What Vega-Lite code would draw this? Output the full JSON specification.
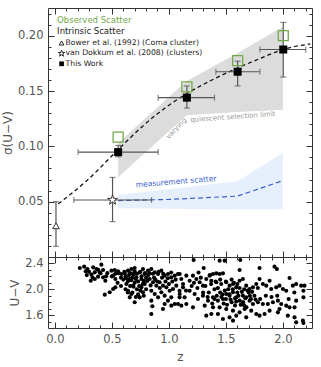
{
  "$schema": "https://vega.github.io/schema/vega-lite/v6.json",
  "background": "white",
  "padding": {"left": 0, "top": 7, "right": 8, "bottom": 0},
  "spacing": 0,
  "bounds": "flush",
  "config": {
    "view": {"stroke": "#333", "strokeWidth": 1},
    "axis": {"domain": false, "grid": false, "labelFont": "DejaVu Sans", "labelFontSize": 11.5, "labelColor": "#555", "tickColor": "#333", "tickWidth": 1, "titleFont": "DejaVu Sans", "titleFontWeight": "normal", "titleColor": "#555", "titleFontSize": 12, "labelOverlap": false},
    "text": {"font": "DejaVu Sans"}
  },
  "datasets": {
    "gray": [{"z": 0.555, "lo": 0.072, "hi": 0.103}, {"z": 1.155, "lo": 0.128, "hi": 0.159}, {"z": 1.6, "lo": 0.131, "hi": 0.184}, {"z": 2.0, "lo": 0.133, "hi": 0.208}],
    "blue": [{"z": 0.555, "lo": 0.044, "hi": 0.056}, {"z": 1.6, "lo": 0.043, "hi": 0.0685}, {"z": 2.0, "lo": 0.043, "hi": 0.094}],
    "bluedash": [{"z": 0.555, "s": 0.051}, {"z": 1.0, "s": 0.052}, {"z": 1.6, "s": 0.055}, {"z": 2.0, "s": 0.069}],
    "curve": [{"z": 0.03, "s": 0.048}, {"z": 0.28, "s": 0.069}, {"z": 0.555, "s": 0.097}, {"z": 0.775, "s": 0.1187}, {"z": 0.994, "s": 0.1367}, {"z": 1.155, "s": 0.1475}, {"z": 1.36, "s": 0.159}, {"z": 1.608, "s": 0.171}, {"z": 1.8, "s": 0.1794}, {"z": 2.0, "s": 0.1875}, {"z": 2.24, "s": 0.1925}],
    "obs": [{"z": 0.555, "s": 0.1083}, {"z": 1.158, "s": 0.1537}, {"z": 1.603, "s": 0.1774}, {"z": 2.003, "s": 0.2}],
    "err": [
      {"src": "this", "z": 0.555, "s": 0.0948, "zlo": 0.204, "zhi": 0.906, "slo": 0.0905, "shi": 0.1008},
      {"src": "this", "z": 1.158, "s": 0.144, "zlo": 0.906, "zhi": 1.4, "slo": 0.1346, "shi": 0.1546},
      {"src": "this", "z": 1.603, "s": 0.1674, "zlo": 1.412, "zhi": 1.798, "slo": 0.1546, "shi": 0.177},
      {"src": "this", "z": 2.003, "s": 0.1875, "zlo": 1.798, "zhi": 2.2, "slo": 0.1626, "shi": 0.212},
      {"src": "vd", "z": 0.506, "s": 0.0515, "zlo": 0.167, "zhi": 0.848, "slo": 0.032, "shi": 0.0719},
      {"src": "bower", "z": 0.01, "s": 0.0282, "zlo": null, "zhi": null, "slo": 0.0097, "shi": 0.05}
    ],
    "uv": [
      {"z": 0.219, "uv": 2.33}, {"z": 0.257, "uv": 2.35}, {"z": 0.286, "uv": 2.314}, {"z": 0.336, "uv": 2.34}, {"z": 0.365, "uv": 2.314}, {"z": 0.408, "uv": 2.381}, {"z": 0.423, "uv": 2.299}, {"z": 0.394, "uv": 2.262}, {"z": 0.35, "uv": 2.262}, {"z": 0.321, "uv": 2.226},
      {"z": 0.315, "uv": 2.133}, {"z": 0.35, "uv": 2.159}, {"z": 0.379, "uv": 2.195}, {"z": 0.423, "uv": 2.185}, {"z": 0.443, "uv": 2.133}, {"z": 0.496, "uv": 2.288}, {"z": 0.525, "uv": 2.299}, {"z": 0.554, "uv": 2.278}, {"z": 0.511, "uv": 2.211}, {"z": 0.531, "uv": 2.159},
      {"z": 0.438, "uv": 1.917}, {"z": 0.481, "uv": 1.953}, {"z": 0.511, "uv": 2.004}, {"z": 0.531, "uv": 2.03}, {"z": 0.584, "uv": 2.237}, {"z": 0.613, "uv": 2.247}, {"z": 0.642, "uv": 2.288}, {"z": 0.671, "uv": 2.314}, {"z": 0.7, "uv": 2.33}, {"z": 0.686, "uv": 2.237},
      {"z": 0.715, "uv": 2.185}, {"z": 0.657, "uv": 2.159}, {"z": 0.627, "uv": 2.082}, {"z": 0.686, "uv": 2.056}, {"z": 0.744, "uv": 2.262}, {"z": 0.759, "uv": 2.159}, {"z": 0.773, "uv": 2.314}, {"z": 0.788, "uv": 2.237}, {"z": 0.642, "uv": 1.978}, {"z": 0.671, "uv": 1.927},
      {"z": 0.657, "uv": 1.875}, {"z": 0.7, "uv": 1.798}, {"z": 0.744, "uv": 1.875}, {"z": 0.773, "uv": 1.953}, {"z": 0.759, "uv": 2.03}, {"z": 0.788, "uv": 2.082}, {"z": 0.817, "uv": 2.288}, {"z": 0.846, "uv": 2.314}, {"z": 0.876, "uv": 2.262}, {"z": 0.905, "uv": 2.237},
      {"z": 0.934, "uv": 2.288}, {"z": 0.963, "uv": 2.211}, {"z": 0.992, "uv": 2.237}, {"z": 1.021, "uv": 2.185}, {"z": 1.051, "uv": 2.211}, {"z": 1.08, "uv": 2.237}, {"z": 1.109, "uv": 2.159}, {"z": 0.832, "uv": 2.159}, {"z": 0.861, "uv": 2.108}, {"z": 0.89, "uv": 2.056},
      {"z": 0.919, "uv": 2.108}, {"z": 0.948, "uv": 2.056}, {"z": 0.978, "uv": 2.03}, {"z": 1.007, "uv": 1.978}, {"z": 1.036, "uv": 2.004}, {"z": 1.065, "uv": 2.056}, {"z": 1.094, "uv": 1.978}, {"z": 1.124, "uv": 2.03}, {"z": 0.846, "uv": 1.978}, {"z": 0.876, "uv": 1.927},
      {"z": 0.905, "uv": 1.875}, {"z": 0.934, "uv": 1.953}, {"z": 0.963, "uv": 1.901}, {"z": 0.992, "uv": 1.824}, {"z": 1.021, "uv": 1.875}, {"z": 1.051, "uv": 1.772}, {"z": 1.094, "uv": 1.875}, {"z": 1.109, "uv": 1.746}, {"z": 0.846, "uv": 1.617}, {"z": 0.855, "uv": 1.736},
      {"z": 0.948, "uv": 1.694}, {"z": 0.963, "uv": 1.772}, {"z": 1.021, "uv": 1.746}, {"z": 1.08, "uv": 1.772}, {"z": 0.846, "uv": 1.824},
      {"z": 0.6, "uv": 2.15}, {"z": 0.62, "uv": 2.2}, {"z": 0.64, "uv": 2.12}, {"z": 0.66, "uv": 2.25}, {"z": 0.68, "uv": 2.18}, {"z": 0.7, "uv": 2.1}, {"z": 0.72, "uv": 2.24}, {"z": 0.74, "uv": 2.05}, {"z": 0.76, "uv": 2.2}, {"z": 0.78, "uv": 2.13},
      {"z": 0.8, "uv": 2.18}, {"z": 0.7, "uv": 2.28}, {"z": 0.66, "uv": 2.05}, {"z": 0.62, "uv": 2.0}, {"z": 0.72, "uv": 2.0}, {"z": 0.8, "uv": 2.0}, {"z": 0.83, "uv": 2.25}, {"z": 0.87, "uv": 2.18}, {"z": 0.9, "uv": 2.12}, {"z": 0.94, "uv": 2.18},
      {"z": 0.97, "uv": 2.12}, {"z": 1.0, "uv": 2.08}, {"z": 1.03, "uv": 2.12}, {"z": 1.06, "uv": 2.15}, {"z": 0.68, "uv": 1.95}, {"z": 0.73, "uv": 1.92}, {"z": 0.58, "uv": 2.05}, {"z": 0.55, "uv": 2.1}, {"z": 0.5, "uv": 2.2}, {"z": 0.46, "uv": 2.25},
      {"z": 0.28, "uv": 2.22}, {"z": 0.3, "uv": 2.27}, {"z": 0.33, "uv": 2.18}, {"z": 0.38, "uv": 2.3}, {"z": 0.4, "uv": 2.25},
      {"z": 0.61, "uv": 2.27}, {"z": 0.63, "uv": 2.17}, {"z": 0.65, "uv": 2.22}, {"z": 0.67, "uv": 2.14}, {"z": 0.69, "uv": 2.23}, {"z": 0.71, "uv": 2.16}, {"z": 0.73, "uv": 2.12}, {"z": 0.75, "uv": 2.27}, {"z": 0.77, "uv": 2.08}, {"z": 0.79, "uv": 2.25},
      {"z": 0.81, "uv": 2.13}, {"z": 0.82, "uv": 2.22}, {"z": 0.84, "uv": 2.06}, {"z": 0.86, "uv": 2.24}, {"z": 0.88, "uv": 2.15}, {"z": 0.91, "uv": 2.27}, {"z": 0.92, "uv": 2.02}, {"z": 0.95, "uv": 2.24}, {"z": 0.99, "uv": 2.17}, {"z": 1.02, "uv": 2.26},
      {"z": 0.69, "uv": 2.04}, {"z": 0.75, "uv": 1.98}, {"z": 0.64, "uv": 1.95}, {"z": 0.71, "uv": 1.88}, {"z": 0.78, "uv": 1.9}, {"z": 0.58, "uv": 2.18}, {"z": 0.56, "uv": 2.25}, {"z": 0.53, "uv": 2.24}, {"z": 0.45, "uv": 2.2}, {"z": 0.27, "uv": 2.28},
      {"z": 1.217, "uv": 2.454}, {"z": 1.445, "uv": 2.443}, {"z": 1.489, "uv": 2.443}, {"z": 1.626, "uv": 2.454}, {"z": 1.305, "uv": 2.33}, {"z": 1.62, "uv": 2.299}, {"z": 1.795, "uv": 2.33}, {"z": 1.926, "uv": 2.35}, {"z": 1.947, "uv": 2.314}, {"z": 2.058, "uv": 2.175},
      {"z": 1.095, "uv": 2.237}, {"z": 1.153, "uv": 2.211}, {"z": 1.211, "uv": 2.211}, {"z": 1.182, "uv": 2.133}, {"z": 1.124, "uv": 2.082}, {"z": 1.241, "uv": 2.159}, {"z": 1.27, "uv": 2.108}, {"z": 1.299, "uv": 2.056}, {"z": 1.328, "uv": 2.159}, {"z": 1.357, "uv": 2.211},
      {"z": 1.387, "uv": 2.237}, {"z": 1.416, "uv": 2.247}, {"z": 1.445, "uv": 2.237}, {"z": 1.474, "uv": 2.247}, {"z": 1.372, "uv": 2.133}, {"z": 1.416, "uv": 2.108}, {"z": 1.459, "uv": 2.082}, {"z": 1.503, "uv": 2.108}, {"z": 1.532, "uv": 2.056}, {"z": 1.562, "uv": 2.082},
      {"z": 1.591, "uv": 2.03}, {"z": 1.62, "uv": 2.133}, {"z": 1.649, "uv": 2.159}, {"z": 1.678, "uv": 2.056}, {"z": 1.708, "uv": 2.004}, {"z": 1.737, "uv": 2.03}, {"z": 1.766, "uv": 2.082}, {"z": 1.795, "uv": 2.159}, {"z": 1.824, "uv": 2.082}, {"z": 1.854, "uv": 2.056},
      {"z": 1.883, "uv": 2.133}, {"z": 1.897, "uv": 2.004}, {"z": 1.941, "uv": 2.03}, {"z": 1.97, "uv": 2.056}, {"z": 2.0, "uv": 2.004}, {"z": 2.029, "uv": 1.978}, {"z": 2.087, "uv": 2.056}, {"z": 2.116, "uv": 2.082}, {"z": 2.16, "uv": 2.056}, {"z": 2.189, "uv": 2.056},
      {"z": 2.18, "uv": 1.978}, {"z": 2.18, "uv": 1.875}, {"z": 1.095, "uv": 1.927}, {"z": 1.138, "uv": 1.875}, {"z": 1.182, "uv": 1.978}, {"z": 1.226, "uv": 1.927}, {"z": 1.255, "uv": 1.849}, {"z": 1.299, "uv": 1.901}, {"z": 1.343, "uv": 1.824}, {"z": 1.387, "uv": 1.875},
      {"z": 1.43, "uv": 1.824}, {"z": 1.474, "uv": 1.849}, {"z": 1.503, "uv": 1.927}, {"z": 1.532, "uv": 1.901}, {"z": 1.562, "uv": 1.953}, {"z": 1.591, "uv": 1.875}, {"z": 1.62, "uv": 1.824}, {"z": 1.649, "uv": 1.901}, {"z": 1.678, "uv": 1.875}, {"z": 1.708, "uv": 1.824},
      {"z": 1.737, "uv": 1.772}, {"z": 1.781, "uv": 1.798}, {"z": 1.824, "uv": 1.772}, {"z": 1.868, "uv": 1.772}, {"z": 1.912, "uv": 1.798}, {"z": 1.956, "uv": 1.824}, {"z": 1.985, "uv": 1.772}, {"z": 2.029, "uv": 1.746}, {"z": 2.058, "uv": 1.72}, {"z": 2.116, "uv": 1.824},
      {"z": 2.102, "uv": 1.72}, {"z": 1.153, "uv": 1.772}, {"z": 1.211, "uv": 1.72}, {"z": 1.314, "uv": 1.746}, {"z": 1.387, "uv": 1.72}, {"z": 1.445, "uv": 1.72}, {"z": 1.503, "uv": 1.694}, {"z": 1.562, "uv": 1.669}, {"z": 1.62, "uv": 1.643}, {"z": 1.664, "uv": 1.694},
      {"z": 1.722, "uv": 1.669}, {"z": 1.795, "uv": 1.591}, {"z": 1.839, "uv": 1.617}, {"z": 1.883, "uv": 1.669}, {"z": 1.956, "uv": 1.643}, {"z": 2.043, "uv": 1.591}, {"z": 2.102, "uv": 1.565}, {"z": 2.116, "uv": 1.488}, {"z": 2.175, "uv": 1.514}, {"z": 2.18, "uv": 1.478},
      {"z": 1.328, "uv": 1.591}, {"z": 1.372, "uv": 1.617}, {"z": 1.43, "uv": 1.617}, {"z": 1.474, "uv": 1.54}, {"z": 1.532, "uv": 1.565}, {"z": 1.562, "uv": 1.514}, {"z": 1.591, "uv": 1.591}, {"z": 1.678, "uv": 1.565}, {"z": 1.766, "uv": 1.617}, {"z": 1.97, "uv": 1.694},
      {"z": 1.35, "uv": 1.95}, {"z": 1.4, "uv": 2.0}, {"z": 1.45, "uv": 1.95}, {"z": 1.5, "uv": 1.85}, {"z": 1.55, "uv": 1.8}, {"z": 1.6, "uv": 1.95}, {"z": 1.65, "uv": 1.8}, {"z": 1.7, "uv": 1.95}, {"z": 1.45, "uv": 2.15}, {"z": 1.55, "uv": 2.15},
      {"z": 1.38, "uv": 1.78}, {"z": 1.48, "uv": 1.78}, {"z": 1.58, "uv": 1.75}, {"z": 1.68, "uv": 1.72}, {"z": 1.62, "uv": 2.02}, {"z": 1.52, "uv": 2.0}, {"z": 1.42, "uv": 1.9}, {"z": 1.25, "uv": 2.02}, {"z": 1.2, "uv": 2.05}, {"z": 1.15, "uv": 1.98},
      {"z": 1.3, "uv": 1.95}, {"z": 1.75, "uv": 1.9}, {"z": 1.8, "uv": 1.85}, {"z": 1.85, "uv": 1.9}, {"z": 1.9, "uv": 1.88}, {"z": 1.95, "uv": 1.9}, {"z": 2.05, "uv": 1.85}, {"z": 2.1, "uv": 1.95}, {"z": 1.6, "uv": 2.08}, {"z": 1.66, "uv": 2.0},
      {"z": 1.72, "uv": 1.85}, {"z": 1.28, "uv": 2.18},
      {"z": 1.32, "uv": 2.05}, {"z": 1.34, "uv": 1.88}, {"z": 1.37, "uv": 2.08}, {"z": 1.4, "uv": 1.85}, {"z": 1.43, "uv": 2.02}, {"z": 1.46, "uv": 1.88}, {"z": 1.49, "uv": 1.98}, {"z": 1.51, "uv": 1.76}, {"z": 1.53, "uv": 1.92}, {"z": 1.56, "uv": 2.0},
      {"z": 1.58, "uv": 1.86}, {"z": 1.61, "uv": 1.9}, {"z": 1.63, "uv": 1.76}, {"z": 1.64, "uv": 1.96}, {"z": 1.67, "uv": 1.86}, {"z": 1.69, "uv": 1.98}, {"z": 1.71, "uv": 1.9}, {"z": 1.73, "uv": 1.96}, {"z": 1.76, "uv": 1.84}, {"z": 1.78, "uv": 2.02},
      {"z": 1.47, "uv": 1.92}, {"z": 1.54, "uv": 1.84}, {"z": 1.59, "uv": 1.81}, {"z": 1.66, "uv": 1.75}, {"z": 1.57, "uv": 2.1}, {"z": 1.5, "uv": 2.12}, {"z": 1.41, "uv": 2.12}, {"z": 1.36, "uv": 2.22}, {"z": 1.26, "uv": 2.26}, {"z": 1.22, "uv": 2.1}
    ]
  },
  "vconcat": [
    {
      "width": 264,
      "height": 249,
      "resolve": {"axis": {"x": "independent", "y": "independent"}},
      "layer": [
        {
          "data": {"name": "gray"},
          "mark": {"type": "area", "color": "#dcdcdc", "opacity": 1},
          "encoding": {
            "x": {"field": "z", "type": "quantitative", "scale": {"domain": [-0.06, 2.255], "nice": false, "zero": false},
              "axis": {"orient": "bottom", "values": [0, 0.1, 0.2, 0.3, 0.4, 0.5, 0.6, 0.7, 0.8, 0.9, 1, 1.1, 1.2, 1.3, 1.4, 1.5, 1.6, 1.7, 1.8, 1.9, 2, 2.1, 2.2], "labels": false, "title": null,
                "tickSize": {"condition": {"test": "abs(datum.value*2-round(datum.value*2))<0.001", "value": -6}, "value": -3}}},
            "y": {"field": "lo", "type": "quantitative", "scale": {"domain": [0, 0.225], "nice": false, "zero": false},
              "axis": {"orient": "left", "values": [0.01, 0.02, 0.03, 0.04, 0.05, 0.06, 0.07, 0.08, 0.09, 0.1, 0.11, 0.12, 0.13, 0.14, 0.15, 0.16, 0.17, 0.18, 0.19, 0.2, 0.21, 0.22], "format": ".2f",
                "labelExpr": "abs(datum.value*20-round(datum.value*20))<0.001 ? datum.label : ''", "title": "σ(U−V)", "labelPadding": 11, "titlePadding": 3,
                "tickSize": {"condition": {"test": "abs(datum.value*20-round(datum.value*20))<0.001", "value": -6}, "value": -3}}},
            "y2": {"field": "hi"}
          }
        },
        {
          "data": {"name": "blue"},
          "mark": {"type": "area", "color": "#e6f0fc", "opacity": 1},
          "encoding": {
            "x": {"field": "z", "type": "quantitative",
              "axis": {"orient": "top", "values": [0, 0.1, 0.2, 0.3, 0.4, 0.5, 0.6, 0.7, 0.8, 0.9, 1, 1.1, 1.2, 1.3, 1.4, 1.5, 1.6, 1.7, 1.8, 1.9, 2, 2.1, 2.2], "labels": false, "title": null,
                "tickSize": {"condition": {"test": "abs(datum.value*2-round(datum.value*2))<0.001", "value": -6}, "value": -3}}},
            "y": {"field": "lo", "type": "quantitative",
              "axis": {"orient": "right", "values": [0.01, 0.02, 0.03, 0.04, 0.05, 0.06, 0.07, 0.08, 0.09, 0.1, 0.11, 0.12, 0.13, 0.14, 0.15, 0.16, 0.17, 0.18, 0.19, 0.2, 0.21, 0.22], "labels": false, "title": null,
                "tickSize": {"condition": {"test": "abs(datum.value*20-round(datum.value*20))<0.001", "value": -6}, "value": -3}}},
            "y2": {"field": "hi"}
          }
        },
        {
          "data": {"name": "bluedash"},
          "mark": {"type": "line", "color": "#3a62c8", "strokeWidth": 1.2, "strokeDash": [5, 3]},
          "encoding": {"x": {"field": "z", "type": "quantitative", "axis": null}, "y": {"field": "s", "type": "quantitative", "axis": null}}
        },
        {
          "data": {"name": "curve"},
          "mark": {"type": "line", "color": "#111", "strokeWidth": 1.3, "strokeDash": [4, 3], "interpolate": "monotone"},
          "encoding": {"x": {"field": "z", "type": "quantitative", "axis": null}, "y": {"field": "s", "type": "quantitative", "axis": null}}
        },
        {
          "data": {"name": "err"},
          "mark": {"type": "rule", "color": "#555", "strokeWidth": 1.2},
          "encoding": {"x": {"field": "zlo", "type": "quantitative", "axis": null}, "x2": {"field": "zhi"}, "y": {"field": "s", "type": "quantitative", "axis": null}}
        },
        {
          "data": {"name": "err"},
          "mark": {"type": "rule", "color": "#555", "strokeWidth": 1.2},
          "encoding": {"x": {"field": "z", "type": "quantitative", "axis": null}, "y": {"field": "slo", "type": "quantitative", "axis": null}, "y2": {"field": "shi"}}
        },
        {
          "data": {"name": "err"},
          "mark": {"type": "tick", "orient": "horizontal", "color": "#555", "size": 6, "thickness": 1.2},
          "encoding": {"x": {"field": "z", "type": "quantitative", "axis": null}, "y": {"field": "slo", "type": "quantitative", "axis": null}}
        },
        {
          "data": {"name": "err"},
          "mark": {"type": "tick", "orient": "horizontal", "color": "#555", "size": 6, "thickness": 1.2},
          "encoding": {"x": {"field": "z", "type": "quantitative", "axis": null}, "y": {"field": "shi", "type": "quantitative", "axis": null}}
        },
        {
          "data": {"name": "err"},
          "mark": {"type": "tick", "orient": "vertical", "color": "#555", "size": 6, "thickness": 1.2},
          "encoding": {"x": {"field": "zlo", "type": "quantitative", "axis": null}, "y": {"field": "s", "type": "quantitative", "axis": null}}
        },
        {
          "data": {"name": "err"},
          "mark": {"type": "tick", "orient": "vertical", "color": "#555", "size": 6, "thickness": 1.2},
          "encoding": {"x": {"field": "zhi", "type": "quantitative", "axis": null}, "y": {"field": "s", "type": "quantitative", "axis": null}}
        },
        {
          "data": {"name": "obs"},
          "mark": {"type": "point", "shape": "square", "filled": false, "size": 100, "color": "#74a94a", "strokeWidth": 1.3, "opacity": 1},
          "encoding": {"x": {"field": "z", "type": "quantitative", "axis": null}, "y": {"field": "s", "type": "quantitative", "axis": null}}
        },
        {
          "data": {"name": "err"},
          "transform": [{"filter": "datum.src === 'this'"}],
          "mark": {"type": "point", "shape": "square", "filled": true, "size": 64, "color": "#000", "opacity": 1},
          "encoding": {"x": {"field": "z", "type": "quantitative", "axis": null}, "y": {"field": "s", "type": "quantitative", "axis": null}}
        },
        {
          "data": {"name": "err"},
          "transform": [{"filter": "datum.src === 'vd'"}],
          "mark": {"type": "point", "shape": "M0,-1L0.2245,-0.309L0.951,-0.309L0.363,0.118L0.588,0.809L0,0.382L-0.588,0.809L-0.363,0.118L-0.951,-0.309L-0.2245,-0.309Z", "filled": true, "fill": "white", "stroke": "#333", "strokeWidth": 1, "size": 110, "opacity": 1},
          "encoding": {"x": {"field": "z", "type": "quantitative", "axis": null}, "y": {"field": "s", "type": "quantitative", "axis": null}}
        },
        {
          "data": {"name": "err"},
          "transform": [{"filter": "datum.src === 'bower'"}],
          "mark": {"type": "point", "shape": "triangle-up", "filled": true, "fill": "white", "stroke": "#333", "strokeWidth": 1, "size": 45, "opacity": 1},
          "encoding": {"x": {"field": "z", "type": "quantitative", "axis": null}, "y": {"field": "s", "type": "quantitative", "axis": null}}
        },
        {
          "data": {"values": [{}]},
          "mark": {"type": "text", "text": "varying", "fontSize": 7, "color": "#999", "angle": -46, "align": "center", "baseline": "middle"},
          "encoding": {"x": {"datum": 1.066, "type": "quantitative", "axis": null}, "y": {"datum": 0.116, "type": "quantitative", "axis": null}}
        },
        {
          "data": {"values": [{}]},
          "mark": {"type": "text", "text": "quiescent selection limit", "fontSize": 7, "color": "#999", "angle": -4, "align": "center", "baseline": "middle"},
          "encoding": {"x": {"datum": 1.561, "type": "quantitative", "axis": null}, "y": {"datum": 0.1265, "type": "quantitative", "axis": null}}
        },
        {
          "data": {"values": [{}]},
          "mark": {"type": "text", "text": "measurement scatter", "fontSize": 7.5, "color": "#3a5fcd", "angle": -4.5, "align": "center", "baseline": "middle"},
          "encoding": {"x": {"datum": 1.064, "type": "quantitative", "axis": null}, "y": {"datum": 0.0677, "type": "quantitative", "axis": null}}
        },
        {
          "data": {"values": [{}]},
          "mark": {"type": "text", "text": "Observed Scatter", "fontSize": 8.5, "color": "#74a94a", "align": "left", "baseline": "middle"},
          "encoding": {"x": {"datum": 0.02, "type": "quantitative", "axis": null}, "y": {"datum": 0.2143, "type": "quantitative", "axis": null}}
        },
        {
          "data": {"values": [{}]},
          "mark": {"type": "text", "text": "Intrinsic Scatter", "fontSize": 8.5, "color": "#222", "align": "left", "baseline": "middle"},
          "encoding": {"x": {"datum": 0.02, "type": "quantitative", "axis": null}, "y": {"datum": 0.2045, "type": "quantitative", "axis": null}}
        },
        {
          "data": {"values": [{}]},
          "mark": {"type": "text", "text": "Bower et al. (1992) (Coma cluster)", "fontSize": 7.7, "color": "#222", "align": "left", "baseline": "middle"},
          "encoding": {"x": {"datum": 0.094, "type": "quantitative", "axis": null}, "y": {"datum": 0.1934, "type": "quantitative", "axis": null}}
        },
        {
          "data": {"values": [{}]},
          "mark": {"type": "text", "text": "van Dokkum et al. (2008) (clusters)", "fontSize": 7.7, "color": "#222", "align": "left", "baseline": "middle"},
          "encoding": {"x": {"datum": 0.094, "type": "quantitative", "axis": null}, "y": {"datum": 0.1839, "type": "quantitative", "axis": null}}
        },
        {
          "data": {"values": [{}]},
          "mark": {"type": "text", "text": "This Work", "fontSize": 7.7, "color": "#222", "align": "left", "baseline": "middle"},
          "encoding": {"x": {"datum": 0.094, "type": "quantitative", "axis": null}, "y": {"datum": 0.1746, "type": "quantitative", "axis": null}}
        },
        {
          "data": {"values": [{}]},
          "mark": {"type": "point", "shape": "triangle-up", "filled": true, "fill": "white", "stroke": "#222", "strokeWidth": 1, "size": 22, "opacity": 1},
          "encoding": {"x": {"datum": 0.059, "type": "quantitative", "axis": null}, "y": {"datum": 0.1934, "type": "quantitative", "axis": null}}
        },
        {
          "data": {"values": [{}]},
          "mark": {"type": "point", "shape": "M0,-1L0.2245,-0.309L0.951,-0.309L0.363,0.118L0.588,0.809L0,0.382L-0.588,0.809L-0.363,0.118L-0.951,-0.309L-0.2245,-0.309Z", "filled": true, "fill": "white", "stroke": "#222", "strokeWidth": 1, "size": 45, "opacity": 1},
          "encoding": {"x": {"datum": 0.059, "type": "quantitative", "axis": null}, "y": {"datum": 0.1839, "type": "quantitative", "axis": null}}
        },
        {
          "data": {"values": [{}]},
          "mark": {"type": "point", "shape": "square", "filled": true, "color": "#000", "size": 22, "opacity": 1},
          "encoding": {"x": {"datum": 0.059, "type": "quantitative", "axis": null}, "y": {"datum": 0.1746, "type": "quantitative", "axis": null}}
        }
      ]
    },
    {
      "width": 264,
      "height": 71,
      "resolve": {"axis": {"x": "independent", "y": "independent"}},
      "layer": [
        {
          "data": {"name": "uv"},
          "mark": {"type": "point", "shape": "circle", "filled": true, "size": 17, "color": "#000", "opacity": 1},
          "encoding": {
            "x": {"field": "z", "type": "quantitative", "scale": {"domain": [-0.06, 2.255], "nice": false, "zero": false},
              "axis": {"orient": "bottom", "values": [0, 0.1, 0.2, 0.3, 0.4, 0.5, 0.6, 0.7, 0.8, 0.9, 1, 1.1, 1.2, 1.3, 1.4, 1.5, 1.6, 1.7, 1.8, 1.9, 2, 2.1, 2.2], "format": ".1f",
                "labelExpr": "abs(datum.value*2-round(datum.value*2))<0.001 ? datum.label : ''", "title": "z", "labelPadding": 11, "titlePadding": 4,
                "tickSize": {"condition": {"test": "abs(datum.value*2-round(datum.value*2))<0.001", "value": -6}, "value": -3}}},
            "y": {"field": "uv", "type": "quantitative", "scale": {"domain": [1.4, 2.5], "nice": false, "zero": false},
              "axis": {"orient": "left", "values": [1.5, 1.6, 1.7, 1.8, 1.9, 2.0, 2.1, 2.2, 2.3, 2.4], "format": ".1f",
                "labelExpr": "abs(datum.value*2.5-round(datum.value*2.5))<0.001 ? datum.label : ''", "title": "U−V", "labelPadding": 11, "titlePadding": 3,
                "tickSize": {"condition": {"test": "abs(datum.value*2.5-round(datum.value*2.5))<0.001", "value": -6}, "value": -3}}}
          }
        },
        {
          "data": {"name": "uv"},
          "mark": {"type": "point", "opacity": 0},
          "encoding": {
            "x": {"field": "z", "type": "quantitative",
              "axis": {"orient": "top", "values": [0, 0.1, 0.2, 0.3, 0.4, 0.5, 0.6, 0.7, 0.8, 0.9, 1, 1.1, 1.2, 1.3, 1.4, 1.5, 1.6, 1.7, 1.8, 1.9, 2, 2.1, 2.2], "labels": false, "title": null,
                "tickSize": {"condition": {"test": "abs(datum.value*2-round(datum.value*2))<0.001", "value": -6}, "value": -3}}},
            "y": {"field": "uv", "type": "quantitative",
              "axis": {"orient": "right", "values": [1.5, 1.6, 1.7, 1.8, 1.9, 2.0, 2.1, 2.2, 2.3, 2.4], "labels": false, "title": null,
                "tickSize": {"condition": {"test": "abs(datum.value*2.5-round(datum.value*2.5))<0.001", "value": -6}, "value": -3}}}
          }
        }
      ]
    }
  ]
}
